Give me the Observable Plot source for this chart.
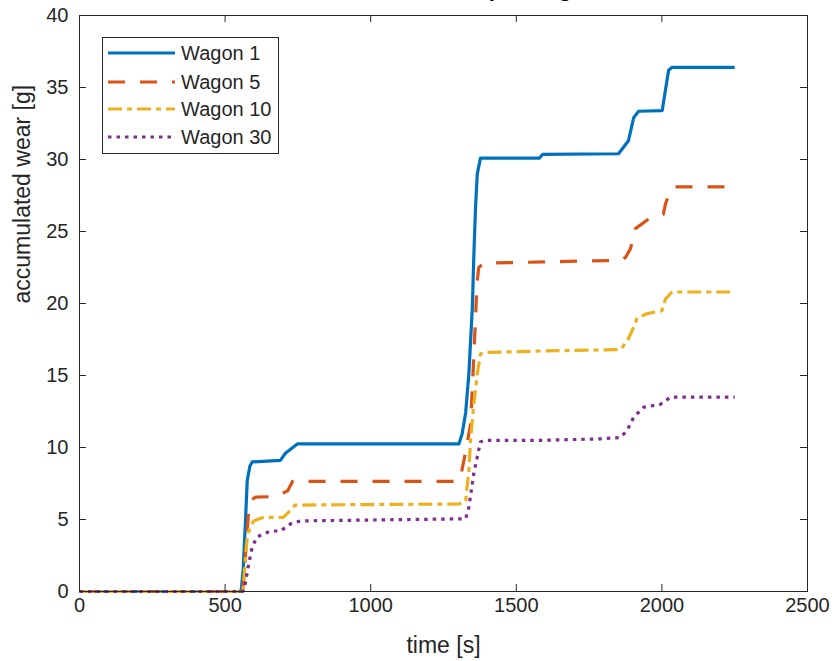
<!DOCTYPE html>
<html>
<head>
<meta charset="utf-8">
<script src="https://cdn.jsdelivr.net/npm/d3@7"></script>
<script src="https://cdn.jsdelivr.net/npm/@observablehq/plot@0.6"></script>
<style>
  html, body { margin: 0; padding: 0; background: #fff; }
  #wrap { position: relative; width: 832px; height: 661px; overflow: hidden; }
  #legend { position: absolute; left: 102px; top: 37px; }
</style>
</head>
<body>
<div id="wrap"></div>
<script>
// ---- data ----
const titleText = "Accumulated wear per wagon";
const xLabel = "time [s]";
const yLabel = "accumulated wear [g]";
const xTicks = [0, 500, 1000, 1500, 2000, 2500];
const yTicks = [0, 5, 10, 15, 20, 25, 30, 35, 40];
const seriesNames = ["Wagon 1", "Wagon 5", "Wagon 10", "Wagon 30"];
const seriesColors = ["#0072BD", "#D95319", "#EDB120", "#7E2F8E"];
const seriesDash = ["none", "17,15", "14,5,5,5", "3.5,5"];

const w1Time = [0, 555, 562, 570, 576, 585, 593, 690, 707, 748, 1303, 1314, 1326, 1337, 1349, 1354, 1360, 1366, 1377, 1580, 1590, 1851, 1885, 1903, 1920, 2001, 2012, 2023, 2035, 2250];
const w1Wear = [0, 0, 1.5, 4.9, 7.7, 8.7, 9.0, 9.1, 9.6, 10.25, 10.25, 10.95, 12.4, 15.1, 19.7, 23.2, 26.7, 29.0, 30.1, 30.1, 30.35, 30.4, 31.3, 32.9, 33.35, 33.4, 34.8, 36.2, 36.4, 36.4];

const w5Time = [0, 560, 566, 573, 581, 593, 605, 675, 715, 732, 1300, 1312, 1320, 1343, 1354, 1360, 1365, 1371, 1388, 1858, 1875, 1892, 1909, 1950, 2005, 2012, 2025, 2041, 2250];
const w5Wear = [0, 0, 1.2, 3.5, 5.6, 6.4, 6.55, 6.6, 7.0, 7.65, 7.65, 8.3, 9.1, 11.6, 16.3, 19.0, 21.4, 22.5, 22.8, 23.0, 23.2, 23.8, 25.2, 25.8, 26.2, 26.9, 27.6, 28.1, 28.1];

const w10Time = [0, 561, 567, 576, 587, 598, 632, 700, 723, 740, 1303, 1326, 1337, 1343, 1354, 1366, 1377, 1400, 1583, 1858, 1881, 1903, 1915, 1950, 2000, 2012, 2035, 2250];
const w10Wear = [0, 0, 1.5, 3.8, 4.5, 4.9, 5.15, 5.15, 5.6, 6.0, 6.08, 6.3, 8.4, 10.5, 13.0, 15.1, 16.5, 16.6, 16.7, 16.8, 17.4, 18.35, 19.0, 19.3, 19.5, 20.3, 20.8, 20.8];

const w30Time = [0, 560, 568, 581, 593, 610, 656, 690, 725, 759, 1326, 1337, 1354, 1377, 1400, 1583, 1789, 1858, 1881, 1903, 1938, 1995, 2030, 2250];
const w30Wear = [0, 0, 0.4, 1.9, 3.1, 3.8, 4.2, 4.2, 4.7, 4.9, 5.05, 5.85, 8.2, 10.4, 10.5, 10.5, 10.6, 10.7, 11.2, 12.1, 12.8, 13.0, 13.5, 13.5];

// ---- build tidy tables ----
const allTimes = [w1Time, w5Time, w10Time, w30Time];
const allWear = [w1Wear, w5Wear, w10Wear, w30Wear];
const series = seriesNames.map((name, i) =>
  allTimes[i].map((t, j) => ({ name, t, v: allWear[i][j] }))
);

const W = 832, H = 661;
const mL = 79, mR = 25, mT = 15, mB = 70;
const plotW = W - mL - mR, plotH = H - mT - mB;
const tickLen = 7;
const ink = "#262626";
const font = "'Liberation Sans', Arial, Helvetica, sans-serif";

const marks = [];
// series lines
series.forEach((data, i) => {
  marks.push(Plot.line(data, {
    x: "t", y: "v",
    stroke: seriesColors[i],
    strokeWidth: 3.2,
    strokeDasharray: seriesDash[i] === "none" ? undefined : seriesDash[i],
    strokeLinecap: "butt",
    strokeLinejoin: "round"
  }));
});
// frame
marks.push(Plot.frame({ stroke: ink, strokeWidth: 1 }));
// inward ticks on all four sides
marks.push(Plot.tickX(xTicks, { x: d => d, insetTop: plotH - tickLen, stroke: ink }));
marks.push(Plot.tickX(xTicks, { x: d => d, insetBottom: plotH - tickLen, stroke: ink }));
marks.push(Plot.tickY(yTicks, { y: d => d, insetRight: plotW - tickLen, stroke: ink }));
marks.push(Plot.tickY(yTicks, { y: d => d, insetLeft: plotW - tickLen, stroke: ink }));
// tick labels
marks.push(Plot.axisX(xTicks, { tickSize: 0, tickPadding: 6, fontSize: 20, fill: ink, label: null, tickFormat: d => String(d) }));
marks.push(Plot.axisY(yTicks, { tickSize: 0, tickPadding: 11, fontSize: 20, fill: ink, label: null, tickFormat: d => String(d) }));
// axis labels
marks.push(Plot.text([xLabel], { text: d => d, frameAnchor: "bottom", dy: 54, lineAnchor: "middle", fontSize: 23, fill: ink }));
marks.push(Plot.text([yLabel], { text: d => d, frameAnchor: "left", dx: -57, rotate: -90, lineAnchor: "middle", fontSize: 23, fill: ink }));
// title (almost entirely above the visible area, as in the reference)
marks.push(Plot.text([titleText], { text: d => d, frameAnchor: "top", dy: -20, lineAnchor: "bottom", fontSize: 22, fontWeight: "bold", fill: "#000" }));

const chart = Plot.plot({
  width: W, height: H,
  marginLeft: mL, marginRight: mR, marginTop: mT, marginBottom: mB,
  x: { domain: [0, 2500] },
  y: { domain: [0, 40] },
  style: { fontFamily: font, fontSize: "20px", color: ink, background: "#fff" },
  marks
});
document.getElementById("wrap").appendChild(chart);

// ---- legend (HTML overlay with small inline SVG) ----
const lg = d3.select("#wrap").append("div").attr("id", "legend");
const lsvg = lg.append("svg").attr("width", 177).attr("height", 117);
lsvg.append("rect").attr("x", 0.5).attr("y", 0.5).attr("width", 176).attr("height", 116)
  .attr("fill", "#fff").attr("stroke", ink).attr("stroke-width", 1);
const rowY = [16, 45, 72, 100];
seriesNames.forEach((name, i) => {
  const ln = lsvg.append("line").attr("x1", 6).attr("x2", 73).attr("y1", rowY[i]).attr("y2", rowY[i])
    .attr("stroke", seriesColors[i]).attr("stroke-width", 3.2).attr("stroke-linecap", "butt");
  if (seriesDash[i] !== "none") ln.attr("stroke-dasharray", seriesDash[i]);
  lsvg.append("text").attr("x", 79).attr("y", rowY[i]).attr("dy", "0.35em")
    .attr("font-family", font).attr("font-size", 20).attr("fill", ink).text(name);
});
</script>
</body>
</html>
